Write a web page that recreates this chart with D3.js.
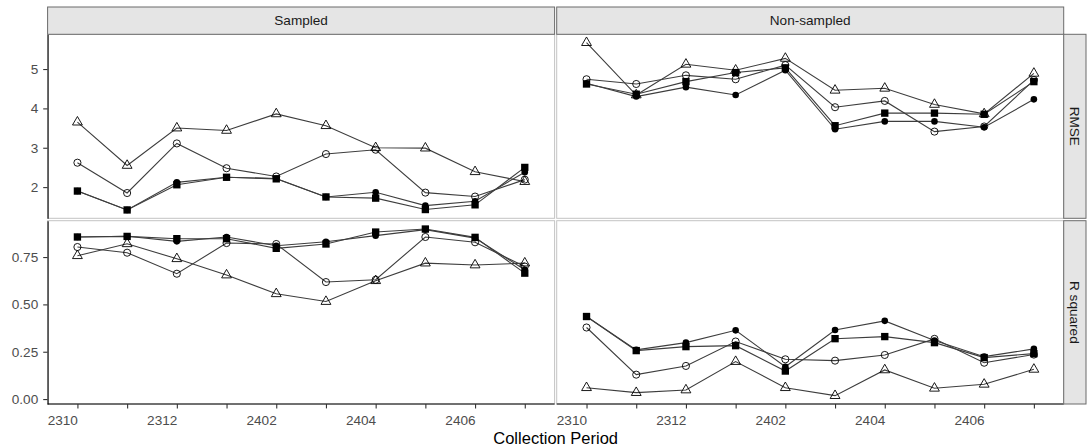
<!DOCTYPE html>
<html>
<head>
<meta charset="utf-8">
<script src="https://cdn.jsdelivr.net/npm/d3@7"></script>
<style>
  body { margin: 0; background: #fff; }
  svg text { font-family: "Liberation Sans", Arial, sans-serif; }
</style>
</head>
<body>
<div id="chart"></div>
<script>
// Data
var periods = ["2310", "2311", "2312", "2401", "2402", "2403", "2404", "2405", "2406", "2407"];
var xTickLabels = ["2310", "2312", "2402", "2404", "2406"];
var facetCols = ["Sampled", "Non-sampled"];
var facetRows = ["RMSE", "R squared"];
var rmseTicks = [2, 3, 4, 5];
var rsqTicks = [0, 0.25, 0.5, 0.75];

// series order: open triangle, open circle, filled circle, filled square
var shapes = ["triangle", "circleOpen", "circleFilled", "square"];

var rmseSampled = [
  [3.65, 2.55, 3.50, 3.44, 3.86, 3.56, 3.00, 2.99, 2.39, 2.14],
  [2.62, 1.85, 3.11, 2.48, 2.27, 2.84, 2.95, 1.86, 1.76, 2.19],
  [1.90, 1.42, 2.12, 2.25, 2.22, 1.75, 1.87, 1.53, 1.64, 2.38],
  [1.90, 1.42, 2.06, 2.25, 2.21, 1.75, 1.72, 1.43, 1.55, 2.50]
];
var rmseNonSampled = [
  [5.67, 4.34, 5.12, 4.97, 5.27, 4.46, 4.51, 4.10, 3.86, 4.89],
  [4.74, 4.62, 4.84, 4.74, 5.10, 4.03, 4.19, 3.41, 3.54, 4.72],
  [4.64, 4.30, 4.54, 4.34, 4.97, 3.47, 3.67, 3.67, 3.52, 4.23],
  [4.62, 4.36, 4.68, 4.91, 5.03, 3.56, 3.88, 3.88, 3.85, 4.68]
];
var rsqSampled = [
  [0.757, 0.820, 0.741, 0.655, 0.556, 0.515, 0.625, 0.718, 0.708, 0.718],
  [0.803, 0.773, 0.662, 0.824, 0.819, 0.618, 0.630, 0.856, 0.828, 0.700],
  [0.856, 0.860, 0.833, 0.856, 0.810, 0.831, 0.863, 0.895, 0.850, 0.683],
  [0.856, 0.859, 0.847, 0.847, 0.796, 0.819, 0.882, 0.898, 0.854, 0.665]
];
var rsqNonSampled = [
  [0.060, 0.034, 0.048, 0.198, 0.060, 0.018, 0.154, 0.057, 0.078, 0.157],
  [0.378, 0.129, 0.175, 0.304, 0.210, 0.203, 0.233, 0.318, 0.192, 0.235],
  [0.436, 0.260, 0.298, 0.363, 0.171, 0.365, 0.413, 0.309, 0.224, 0.265],
  [0.436, 0.256, 0.277, 0.282, 0.148, 0.319, 0.330, 0.298, 0.219, 0.240]
];

// Layout
var svgWidth = 1088;
var svgHeight = 446;
var colX = [[47.6, 554.6], [556.7, 1063.7]];
var rowY = [[34.3, 218.3], [220.7, 404]];
var stripTop = 7;
var stripRight = 1086;

var svg = d3.select("#chart")
  .append("svg")
  .attr("width", svgWidth)
  .attr("height", svgHeight);

// Scales
var xScales = colX.map(function(c) {
  return d3.scalePoint().domain(periods).range(c).padding(0.6);
});

function expanded(arrs) {
  var all = d3.merge(d3.merge(arrs));
  var ext = d3.extent(all);
  var pad = (ext[1] - ext[0]) * 0.05;
  return [ext[0] - pad, ext[1] + pad];
}
var yScales = [
  d3.scaleLinear().domain(expanded([rmseSampled, rmseNonSampled])).range([rowY[0][1], rowY[0][0]]),
  d3.scaleLinear().domain(expanded([rsqSampled, rsqNonSampled])).range([rowY[1][1], rowY[1][0]])
];
var yTicks = [rmseTicks, rsqTicks];
var yFormats = [d3.format("d"), d3.format(".2f")];
var panelData = [[rmseSampled, rmseNonSampled], [rsqSampled, rsqNonSampled]];

var symbolFor = {
  triangle: d3.symbol().type(d3.symbolTriangle).size(42),
  circleOpen: d3.symbol().type(d3.symbolCircle).size(40),
  circleFilled: d3.symbol().type(d3.symbolCircle).size(34),
  square: d3.symbol().type(d3.symbolSquare).size(54)
};

// Panels
facetRows.forEach(function(rowName, r) {
  facetCols.forEach(function(colName, c) {
    var x = xScales[c];
    var y = yScales[r];
    var g = svg.append("g");

    g.append("rect")
      .attr("x", colX[c][0])
      .attr("y", rowY[r][0])
      .attr("width", colX[c][1] - colX[c][0])
      .attr("height", rowY[r][1] - rowY[r][0])
      .attr("fill", "white")
      .attr("stroke", "#c4c4c4")
      .attr("stroke-width", 1);

    var series = panelData[r][c];
    var line = d3.line()
      .x(function(d, i) { return x(periods[i]); })
      .y(function(d) { return y(d); });

    g.selectAll(".series-line")
      .data(series)
      .enter()
      .append("path")
      .attr("d", line)
      .attr("fill", "none")
      .attr("stroke", "#3d3d3d")
      .attr("stroke-width", 1.1);

    series.forEach(function(vals, s) {
      var shape = shapes[s];
      var filled = shape === "circleFilled" || shape === "square";
      g.selectAll(null)
        .data(vals)
        .enter()
        .append("path")
        .attr("transform", function(d, i) { return "translate(" + x(periods[i]) + "," + y(d) + ")"; })
        .attr("d", symbolFor[shape])
        .attr("fill", filled ? "black" : "none")
        .attr("stroke", "black")
        .attr("stroke-width", filled ? 0 : 0.9);
    });

    // left axis on first column
    if (c === 0) {
      var yAxis = d3.axisLeft(y).tickValues(yTicks[r]).tickFormat(yFormats[r])
        .tickSizeInner(4.4).tickSizeOuter(0).tickPadding(5);
      var ya = g.append("g")
        .attr("transform", "translate(" + colX[c][0] + ",0)")
        .call(yAxis);
      ya.select(".domain").attr("stroke", "black").attr("stroke-width", 1.1);
      ya.selectAll(".tick line").attr("stroke", "#333").attr("stroke-width", 1.1);
      ya.selectAll(".tick text").attr("fill", "#4d4d4d").style("font-size", "13.6px");
    }
    // bottom axis on last row (labels end at their tick)
    if (r === 1) {
      var xAxis = d3.axisBottom(x)
        .tickFormat(function(d) { return xTickLabels.indexOf(d) >= 0 ? d : ""; })
        .tickSizeInner(4.4).tickSizeOuter(0).tickPadding(6.5);
      var xa = g.append("g")
        .attr("transform", "translate(0," + rowY[r][1] + ")")
        .call(xAxis);
      xa.select(".domain").attr("stroke", "black").attr("stroke-width", 1.1)
        .attr("d", "M" + colX[c][0] + ",0H" + colX[c][1]);
      xa.selectAll(".tick line").attr("stroke", "#333").attr("stroke-width", 1.1);
      xa.selectAll(".tick text")
        .attr("fill", "#4d4d4d")
        .attr("text-anchor", "end")
        .style("font-size", "13.6px");
    }
  });
});

// Strips on top
facetCols.forEach(function(name, c) {
  svg.append("rect")
    .attr("x", colX[c][0])
    .attr("y", stripTop)
    .attr("width", colX[c][1] - colX[c][0])
    .attr("height", rowY[0][0] - stripTop)
    .attr("fill", "#e5e5e5")
    .attr("stroke", "#6b6b6b")
    .attr("stroke-width", 1);
  svg.append("text")
    .attr("x", (colX[c][0] + colX[c][1]) / 2)
    .attr("y", (stripTop + rowY[0][0]) / 2)
    .attr("dy", "0.35em")
    .attr("text-anchor", "middle")
    .attr("fill", "#1a1a1a")
    .style("font-size", "13.6px")
    .text(name);
});

// Strips on the right
facetRows.forEach(function(name, r) {
  var x0 = colX[1][1];
  svg.append("rect")
    .attr("x", x0)
    .attr("y", rowY[r][0])
    .attr("width", stripRight - x0)
    .attr("height", rowY[r][1] - rowY[r][0])
    .attr("fill", "#e5e5e5")
    .attr("stroke", "#6b6b6b")
    .attr("stroke-width", 1);
  svg.append("text")
    .attr("transform", "translate(" + ((x0 + stripRight) / 2) + "," + ((rowY[r][0] + rowY[r][1]) / 2) + ") rotate(90)")
    .attr("dy", "0.35em")
    .attr("text-anchor", "middle")
    .attr("fill", "#1a1a1a")
    .style("font-size", "13.6px")
    .text(name);
});

// Axis title
svg.append("text")
  .attr("x", (colX[0][0] + colX[1][1]) / 2)
  .attr("y", 444)
  .attr("text-anchor", "middle")
  .attr("fill", "black")
  .style("font-size", "16.5px")
  .text("Collection Period");
</script>
</body>
</html>
